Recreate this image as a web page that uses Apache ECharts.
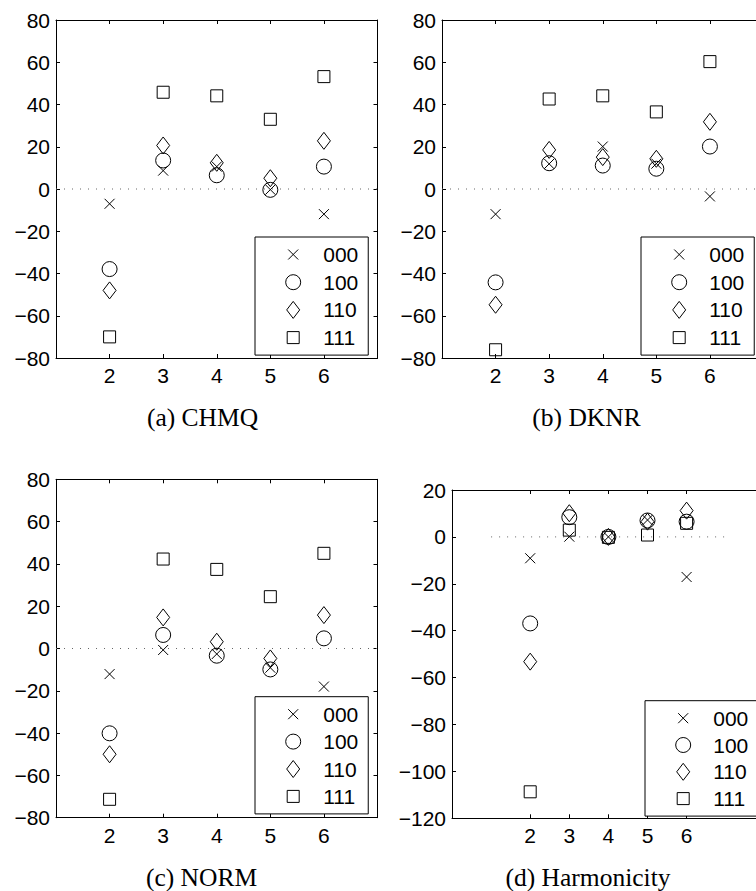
<!DOCTYPE html>
<html><head><meta charset="utf-8">
<script src="https://cdn.jsdelivr.net/npm/echarts@6/dist/echarts.min.js"></script>
<style>html,body{margin:0;padding:0;background:#fff;overflow:hidden}#c{width:756px;height:891px}</style>
</head><body><div id="c"></div>
<script>
// ---- data ----
const xValues = [2, 3, 4, 5, 6];
const xTickLabels = [2, 3, 4, 5, 6];
const seriesNames = ['000', '100', '110', '111'];

const chmq000 = [-7.0, 8.7, 10.6, -0.3, -11.9];
const chmq100 = [-37.9, 13.5, 6.5, -0.4, 10.6];
const chmq110 = [-48.0, 20.6, 12.4, 5.1, 22.8];
const chmq111 = [-70.0, 45.8, 44.1, 33.0, 53.2];

const dknr000 = [-11.9, 11.9, 20.1, 12.0, -3.5];
const dknr100 = [-44.2, 12.2, 11.1, 9.6, 20.1];
const dknr110 = [-54.8, 18.5, 15.1, 14.3, 31.8];
const dknr111 = [-76.1, 42.6, 44.1, 36.5, 60.3];

const norm000 = [-12.1, -0.7, -2.6, -9.1, -18.0];
const norm100 = [-40.1, 6.4, -3.4, -9.9, 4.8];
const norm110 = [-50.0, 14.7, 3.2, -4.7, 15.8];
const norm111 = [-71.3, 42.3, 37.4, 24.5, 45.0];

const harm000 = [-9.1, 0.1, 0.0, 7.2, -17.1];
const harm100 = [-36.9, 8.4, 0.0, 7.0, 6.5];
const harm110 = [-53.2, 10.1, 0.0, 6.5, 11.2];
const harm111 = [-108.7, 2.9, -0.2, 0.8, 5.8];

const panelTitles = ['(a) CHMQ', '(b) DKNR', '(c) NORM', '(d) Harmonicity'];
const yRangeStd = [-80, 80];
const yRangeHarm = [-120, 20];
const yStep = 20;
const xRangeStd = [1, 7];
const xRangeHarm = [0, 8];
const zeroLineX = [1, 7];

// ---- styling / layout ----
const SANS = 'Liberation Sans';
const SERIF = 'Liberation Serif';
const SYM = {
  '000': 'path://M0,0M20,20M5,5L15,15M15,5L5,15',
  '100': 'path://M0,0M20,20M17.5,10A7.5,7.5,0,1,1,2.5,10A7.5,7.5,0,1,1,17.5,10Z',
  '110': 'path://M0,0M20,20M10,1.5L16.5,10L10,18.5L3.5,10Z',
  '111': 'path://M0,0M20,20M4,4L16,4L16,16L4,16Z'
};

const panels = [
  { vals: [chmq000, chmq100, chmq110, chmq111], x: xRangeStd, y: yRangeStd,
    grid: { left: 56, top: 20, width: 321.5, height: 338 },
    legend: { left: 255, top: 237, gap: 6.7 }, cap: { x: 202.5, y: 417 } },
  { vals: [dknr000, dknr100, dknr110, dknr111], x: xRangeStd, y: yRangeStd,
    grid: { left: 442, top: 20, width: 321.5, height: 338 },
    legend: { left: 641, top: 237, gap: 6.7 }, cap: { x: 586.5, y: 417 } },
  { vals: [norm000, norm100, norm110, norm111], x: xRangeStd, y: yRangeStd,
    grid: { left: 56, top: 479.3, width: 321.5, height: 338.4 },
    legend: { left: 255, top: 696.7, gap: 6.4 }, cap: { x: 201.5, y: 877 } },
  { vals: [harm000, harm100, harm110, harm111], x: xRangeHarm, y: yRangeHarm,
    grid: { left: 452, top: 490, width: 312.8, height: 328.3 },
    legend: { left: 645, top: 700.7, gap: 5.8 }, cap: { x: 588, y: 877 } }
];

const axisLineStyle = { color: '#000', width: 1 };
const labelFont = { fontFamily: SANS, fontSize: 21, color: '#000' };
const fmtY = v => String(v).replace('-', '\u2212');

const option = {
  animation: false,
  backgroundColor: '#fff',
  grid: [], xAxis: [], yAxis: [], series: [], legend: [], graphic: []
};

panels.forEach((p, i) => {
  option.grid.push(Object.assign({ containLabel: false, outerBoundsMode: 'none' }, p.grid));
  ['bottom', 'top'].forEach(pos => {
    option.xAxis.push({
      type: 'value', gridIndex: i, position: pos, min: p.x[0], max: p.x[1], interval: 1,
      axisLine: { show: true, onZero: false, lineStyle: axisLineStyle },
      axisTick: { show: true, inside: true, length: 4, customValues: xTickLabels, lineStyle: axisLineStyle },
      axisLabel: pos === 'bottom'
        ? Object.assign({ show: true, margin: 7, customValues: xTickLabels }, labelFont)
        : { show: false },
      splitLine: { show: false }
    });
  });
  ['left', 'right'].forEach(pos => {
    option.yAxis.push({
      type: 'value', gridIndex: i, position: pos, min: p.y[0], max: p.y[1], interval: yStep,
      axisLine: { show: true, onZero: false, lineStyle: axisLineStyle },
      axisTick: { show: true, inside: true, length: 4, lineStyle: axisLineStyle },
      axisLabel: pos === 'left'
        ? Object.assign({ show: true, margin: 6, formatter: fmtY }, labelFont)
        : { show: false },
      splitLine: { show: false }
    });
  });
  option.series.push({
    type: 'line', xAxisIndex: 2 * i, yAxisIndex: 2 * i, silent: true, z: 1,
    data: zeroLineX.map(x => [x, 0]), symbol: 'none',
    lineStyle: { color: '#666', width: 1, type: [1, 7] }
  });
  seriesNames.forEach((name, j) => {
    option.series.push({
      type: 'scatter', name: name, xAxisIndex: 2 * i, yAxisIndex: 2 * i, z: 3,
      data: xValues.map((x, k) => [x, p.vals[j][k]]),
      symbol: SYM[name], symbolSize: 20,
      itemStyle: { color: 'rgba(0,0,0,0)', borderColor: '#000', borderWidth: 1, opacity: 1 },
      emphasis: { disabled: true }
    });
  });
  option.legend.push({
    orient: 'vertical', left: p.legend.left, top: p.legend.top,
    padding: [7, 10, 7, 27.7], itemWidth: 20, itemHeight: 20, itemGap: p.legend.gap,
    selectedMode: false,
    borderColor: '#000', borderWidth: 1, backgroundColor: '#fff',
    data: seriesNames,
    textStyle: { fontFamily: SANS, fontSize: 21, lineHeight: 20, color: '#000', padding: [0, 0, 0, 15] },
    itemStyle: { color: 'rgba(0,0,0,0)', borderColor: '#000', borderWidth: 1 }
  });
  option.graphic.push({
    type: 'text', x: p.cap.x, y: p.cap.y, silent: true,
    style: { text: panelTitles[i], textAlign: 'center', textVerticalAlign: 'middle',
             fontFamily: SERIF, fontSize: 25.5, fill: '#000' }
  });
});

const chart = echarts.init(document.getElementById('c'), null, { renderer: 'svg' });
chart.setOption(option);
</script>
</body></html>
